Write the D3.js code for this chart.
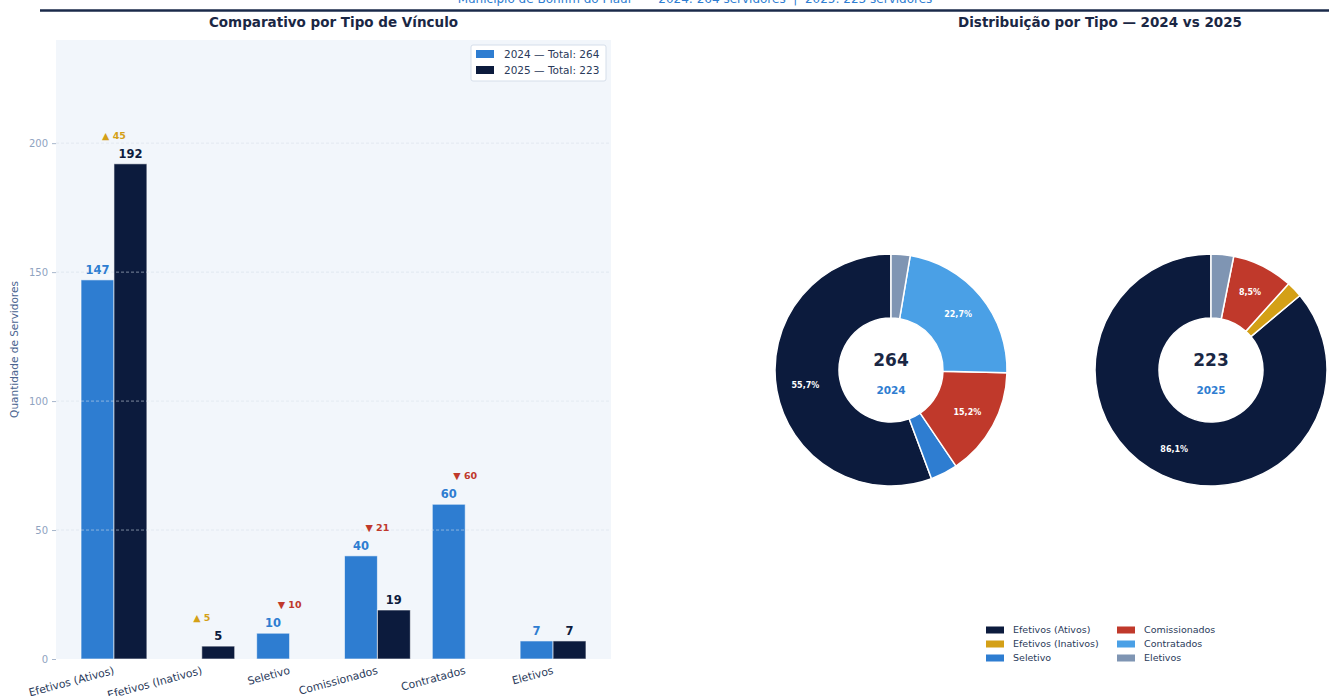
<!DOCTYPE html>
<html lang="pt">
<head>
<meta charset="UTF-8">
<title>Servidores - Bonfim do Piauí</title>
<script src="https://d3js.org/d3.v7.min.js"></script>
<style>
  body { margin: 0; background: #ffffff; }
  svg { display: block; font-family: "DejaVu Sans", sans-serif; }
  .sub { white-space: pre; }
</style>
</head>
<body>
<svg id="chart" width="1329" height="696"></svg>
<script>
// data
const categorias = ["Efetivos (Ativos)", "Efetivos (Inativos)", "Seletivo", "Comissionados", "Contratados", "Eletivos"];
const valores2024 = [147, 0, 10, 40, 60, 7];
const valores2025 = [192, 5, 0, 19, 0, 7];
const anos = ["2024", "2025"];
const yTicks = [0, 50, 100, 150, 200];
const coresTipo = ["#0c1b3d", "#d4a017", "#2e7dd1", "#c0392b", "#4aa0e6", "#7f95b3"];

const cor2024 = "#2e7dd1", cor2025 = "#0c1b3d";
const corTexto = "#1a2744";
const total2024 = d3.sum(valores2024), total2025 = d3.sum(valores2025);
const fmtPct = v => d3.format(".1f")(v).replace(".", ",") + "%";

const svg = d3.select("#chart");

// header line + subtitle (clipped at top, like the original)
svg.append("text").attr("class", "sub").attr("x", 695).attr("y", 3).attr("text-anchor", "middle")
  .attr("font-size", 12).attr("fill", "#2e7dd1")
  .text(`Município de Bonfim do Piauí  —  2024: ${total2024} servidores  |  2025: ${total2025} servidores`);
svg.append("line").attr("x1", 40).attr("x2", 1329).attr("y1", 10.5).attr("y2", 10.5)
  .attr("stroke", "#1a2a4a").attr("stroke-width", 2.5);

// ---------------- bar chart ----------------
const pL = 56, pR = 611, pT = 40, pB = 659;
const x = d3.scaleLinear().domain([-0.66, categorias.length - 1 + 0.66]).range([pL, pR]);
const y = d3.scaleLinear().domain([0, 240]).range([pB, pT]);
const bw = 0.375;

svg.append("text").attr("x", (pL + pR) / 2).attr("y", 27).attr("text-anchor", "middle")
  .attr("font-size", 13.5).attr("font-weight", "bold").attr("fill", corTexto)
  .text("Comparativo por Tipo de Vínculo");

svg.append("rect").attr("x", pL).attr("y", pT).attr("width", pR - pL).attr("height", pB - pT)
  .attr("fill", "#f2f6fb");

const g = svg.append("g");

// bars
const series = [
  { ano: "2024", vals: valores2024, cor: cor2024, off: -bw },
  { ano: "2025", vals: valores2025, cor: cor2025, off: 0 }
];
series.forEach(s => {
  const pts = s.vals.map((v, i) => ({ v, i })).filter(d => d.v > 0);
  g.selectAll(null).data(pts).enter()
    .append("rect")
    .attr("x", d => x(d.i + s.off))
    .attr("width", x(bw) - x(0))
    .attr("y", d => y(d.v))
    .attr("height", d => y(0) - y(d.v))
    .attr("fill", s.cor)
    .attr("stroke", "#ffffff").attr("stroke-opacity", 0.6).attr("stroke-width", 1);

  g.selectAll(null).data(pts).enter()
    .append("text")
    .attr("x", d => x(d.i + s.off + bw / 2))
    .attr("y", d => y(d.v) - 6)
    .attr("text-anchor", "middle")
    .attr("font-size", 11.5).attr("font-weight", "bold")
    .attr("fill", s.cor)
    .text(d => d.v);
});

// grid lines drawn over bars
g.selectAll(null).data(yTicks.filter(t => t > 0)).enter().append("line")
  .attr("x1", pL).attr("x2", pR)
  .attr("y1", d => y(d)).attr("y2", d => y(d))
  .attr("stroke", "#d5deea").attr("stroke-opacity", 0.7)
  .attr("stroke-dasharray", "3,2").attr("stroke-width", 0.8);

// y axis
const yAxis = d3.axisLeft(y).tickValues(yTicks).tickSize(4).tickPadding(4);
const ya = svg.append("g").attr("transform", `translate(${pL},0)`).call(yAxis);
ya.select(".domain").remove();
ya.selectAll("line").attr("stroke", "#a7b6cb");
ya.selectAll("text").attr("fill", "#8fa3bf").attr("font-size", 10).attr("font-family", "DejaVu Sans");

svg.append("text").attr("transform", `translate(18,${(pT + pB) / 2}) rotate(-90)`)
  .attr("text-anchor", "middle").attr("font-size", 10.5).attr("fill", "#4a6490")
  .text("Quantidade de Servidores");

// x tick labels, rotated
svg.selectAll(null).data(categorias).enter().append("text")
  .attr("transform", (d, i) => `translate(${x(i)},${pB + 11}) rotate(-15)`)
  .attr("text-anchor", "end").attr("dy", "0.35em")
  .attr("font-size", 10.8).attr("fill", "#2a3a5a")
  .text(d => d);

// change annotations
categorias.forEach((c, i) => {
  const diff = valores2025[i] - valores2024[i];
  if (diff === 0) return;
  const up = diff > 0;
  const topVal = Math.max(valores2024[i], valores2025[i]);
  svg.append("text")
    .attr("x", x(i)).attr("y", y(topVal + 11)).attr("dy", "0.35em")
    .attr("text-anchor", "middle").attr("font-size", 9.5).attr("font-weight", "bold")
    .attr("fill", up ? "#d4a017" : "#c0392b")
    .text((up ? "▲ " : "▼ ") + Math.abs(diff));
});

// bar legend
const lg = svg.append("g").attr("transform", "translate(471,45)");
lg.append("rect").attr("width", 135).attr("height", 36).attr("rx", 2)
  .attr("fill", "#ffffff").attr("stroke", "#d5deea");
[[cor2024, `2024 — Total: ${total2024}`], [cor2025, `2025 — Total: ${total2025}`]].forEach((e, k) => {
  lg.append("rect").attr("x", 5).attr("y", 5 + k * 16).attr("width", 18).attr("height", 8).attr("fill", e[0]);
  lg.append("text").attr("x", 33).attr("y", 9 + k * 16).attr("dy", "0.35em")
    .attr("font-size", 10.5).attr("fill", "#2a3a5a").text(e[1]);
});

// ---------------- donuts ----------------
svg.append("text").attr("x", 1100).attr("y", 27).attr("text-anchor", "middle")
  .attr("font-size", 13.5).attr("font-weight", "bold").attr("fill", corTexto)
  .text("Distribuição por Tipo — 2024 vs 2025");

const rOut = 116, rIn = 52;
const pie = d3.pie().sort(null).startAngle(0).endAngle(-2 * Math.PI);
const arc = d3.arc().innerRadius(rIn).outerRadius(rOut);
const arcLabel = d3.arc().innerRadius(87).outerRadius(87);

[[valores2024, 891, "2024", total2024], [valores2025, 1211, "2025", total2025]].forEach(([vals, cx, ano, tot]) => {
  const dg = svg.append("g").attr("transform", `translate(${cx},370)`);
  const arcs = pie(vals).map((a, i) => Object.assign(a, { i }));
  dg.selectAll("path").data(arcs.filter(a => a.value > 0)).enter().append("path")
    .attr("d", arc).attr("fill", d => coresTipo[d.i])
    .attr("stroke", "#ffffff").attr("stroke-width", 1.5);
  dg.selectAll("text.pct").data(arcs.filter(a => a.value / tot > 0.05)).enter().append("text")
    .attr("class", "pct")
    .attr("transform", d => `translate(${arcLabel.centroid(d)})`)
    .attr("text-anchor", "middle").attr("dy", "0.35em")
    .attr("font-size", 8).attr("font-weight", "bold").attr("fill", "#ffffff")
    .text(d => fmtPct(d.value / tot * 100));
  dg.append("text").attr("y", -10).attr("dy", "0.35em").attr("text-anchor", "middle")
    .attr("font-size", 17).attr("font-weight", "bold").attr("fill", corTexto).text(tot);
  dg.append("text").attr("y", 20).attr("dy", "0.35em").attr("text-anchor", "middle")
    .attr("font-size", 10.5).attr("font-weight", "bold").attr("fill", cor2024).text(ano);
});

// donut legend, two columns
const dl = svg.append("g").attr("transform", "translate(986,630)");
categorias.forEach((c, i) => {
  const col = Math.floor(i / 3), row = i % 3;
  const eg = dl.append("g").attr("transform", `translate(${col * 131},${row * 14})`);
  eg.append("rect").attr("x", 0).attr("y", -3.5).attr("width", 18).attr("height", 7).attr("fill", coresTipo[i]);
  eg.append("text").attr("x", 27).attr("dy", "0.35em").attr("font-size", 9.5).attr("fill", "#2a3a5a").text(c);
});
</script>
</body>
</html>
